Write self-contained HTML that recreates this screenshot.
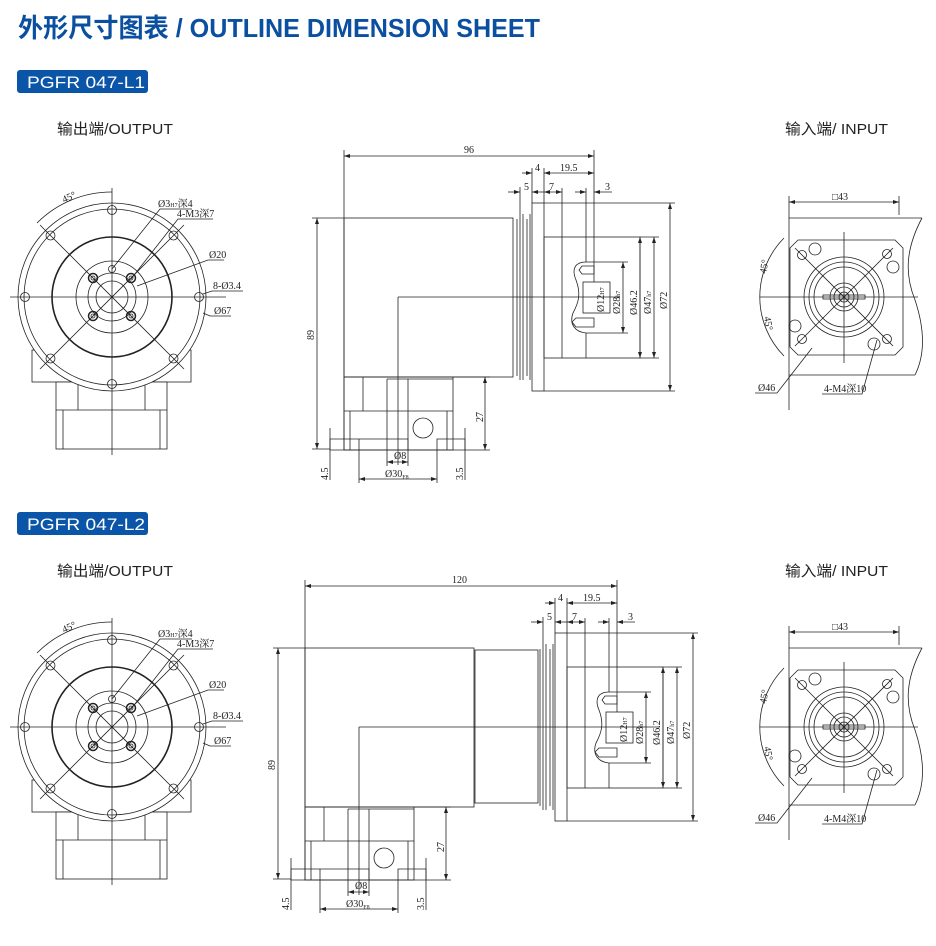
<!DOCTYPE html>
<html><head><meta charset="utf-8"><style>
html,body{margin:0;padding:0;background:#fff;}
svg{display:block;}
.t{font-family:"Liberation Serif","Noto Serif CJK SC",serif;font-size:10px;fill:#222;}
.h{font-family:"Liberation Sans","Noto Sans CJK SC",sans-serif;font-size:15px;fill:#222;}
</style></head><body>
<svg width="936" height="946" viewBox="0 0 936 946" xmlns="http://www.w3.org/2000/svg">
<defs>
<marker id="a" markerWidth="6" markerHeight="4" refX="6" refY="2" orient="auto-start-reverse" markerUnits="userSpaceOnUse"><path d="M0,0 L6,2 L0,4z" fill="#222"/></marker>
<g id="outv" fill="none" stroke="#222" stroke-width="0.8">
<rect x="32" y="350" width="159" height="32" fill="#fff"/>
<rect x="56" y="382" width="111" height="67" fill="#fff"/>
<line x1="78" y1="382" x2="78" y2="410"/><line x1="145" y1="382" x2="145" y2="410"/>
<line x1="56" y1="410" x2="167" y2="410"/>
<line x1="63" y1="410" x2="63" y2="449"/><line x1="160" y1="410" x2="160" y2="449"/>
<circle cx="112" cy="297" r="94" fill="#fff"/>
<circle cx="112" cy="297" r="88"/>
<circle cx="112" cy="297" r="60" stroke-width="1.6"/>
<circle cx="112" cy="297" r="36"/>
<circle cx="112" cy="297" r="24"/>
<circle cx="112" cy="297" r="16"/>
<line x1="10" y1="297" x2="226" y2="297"/>
<line x1="112" y1="188" x2="112" y2="455"/>
<line x1="40" y1="225" x2="184" y2="369"/>
<line x1="184" y1="225" x2="40" y2="369"/>
<path d="M112,192 A105,105 0 0 0 37,223"/>
<circle cx="112" cy="210" r="4.5"/><circle cx="112" cy="384" r="4.5"/>
<circle cx="25" cy="297" r="4.5"/><circle cx="199" cy="297" r="4.5"/>
<circle cx="50.5" cy="235.5" r="4.5"/><circle cx="173.5" cy="235.5" r="4.5"/>
<circle cx="50.5" cy="358.5" r="4.5"/><circle cx="173.5" cy="358.5" r="4.5"/>
<circle cx="93" cy="278" r="4.5" stroke-width="1.5"/><circle cx="131" cy="278" r="4.5" stroke-width="1.5"/>
<circle cx="93" cy="316" r="4.5" stroke-width="1.5"/><circle cx="131" cy="316" r="4.5" stroke-width="1.5"/>
<circle cx="93" cy="278" r="2"/><circle cx="131" cy="278" r="2"/><circle cx="93" cy="316" r="2"/><circle cx="131" cy="316" r="2"/>
<circle cx="112" cy="269" r="3.5"/>
<polyline points="112,269 160,209 192,209"/>
<polyline points="131,279 178,219 213,219"/>
<polyline points="137,286 208,260 224,260"/>
<polyline points="203,294 212,291 243,291"/>
<polyline points="203,313 210,316 231,316"/>
</g>
<g id="inv" fill="none" stroke="#222" stroke-width="0.8">
<line x1="789" y1="196" x2="789" y2="410"/><line x1="899" y1="196" x2="899" y2="215"/>
<line x1="789" y1="202" x2="899" y2="202" marker-start="url(#a)" marker-end="url(#a)"/>
<line x1="789" y1="218" x2="922" y2="218"/>
<line x1="789" y1="375" x2="915" y2="375"/>
<path d="M922,218 C905,250 905,275 915,300 C925,330 925,355 915,375"/>
<path d="M798,240 L895,240 L903,248 L903,347 L895,355 L798,355 L790,347 L790,248 Z"/>
<circle cx="844" cy="297" r="40"/><circle cx="844" cy="297" r="35"/><circle cx="844" cy="297" r="30"/>
<circle cx="844" cy="297" r="14"/><circle cx="844" cy="297" r="10"/><circle cx="844" cy="297" r="5"/>
<rect x="823" y="295" width="42" height="4"/>
<line x1="760" y1="297" x2="918" y2="297"/><line x1="844" y1="232" x2="844" y2="363"/>
<line x1="795" y1="248" x2="893" y2="346"/><line x1="893" y1="248" x2="795" y2="346"/>
<circle cx="802" cy="255" r="4.5"/><circle cx="887" cy="254" r="4.5"/><circle cx="802" cy="339" r="4.5"/><circle cx="887" cy="339" r="4.5"/>
<circle cx="815" cy="249" r="6"/><circle cx="893" cy="267" r="6"/><circle cx="795" cy="326" r="6"/><circle cx="874" cy="344" r="6"/>
<path d="M784,238 A84,84 0 0 0 784,356"/>
<polyline points="812,348 777,393 755,393"/>
<polyline points="877,340 862,394 822,394"/>
</g>
<g id="sa" fill="none" stroke="#222" stroke-width="0.8">
<rect x="344" y="218" width="169" height="159"/>
<line x1="344" y1="150" x2="344" y2="450"/>
<line x1="312" y1="218" x2="344" y2="218"/><line x1="312" y1="449" x2="330" y2="449"/>
<line x1="317" y1="218" x2="317" y2="449" marker-start="url(#a)" marker-end="url(#a)"/>
<rect x="344" y="377" width="109" height="73"/>
<line x1="363" y1="377" x2="363" y2="411"/><line x1="344" y1="411" x2="453" y2="411"/>
<line x1="350" y1="411" x2="350" y2="450"/><line x1="447" y1="411" x2="447" y2="450"/>
<line x1="387" y1="379" x2="387" y2="466"/><line x1="408" y1="379" x2="408" y2="466"/>
<line x1="387" y1="379" x2="453" y2="379"/>
<path d="M330,450 L330,439 L408,439 L408,450 M359,450 L359,439 M437,450 L437,439 L465,439 L465,450"/>
<line x1="330" y1="450" x2="465" y2="450"/>
<circle cx="423" cy="428" r="10"/>
<line x1="453" y1="377" x2="490" y2="377"/><line x1="465" y1="450" x2="490" y2="450"/>
<line x1="485" y1="377" x2="485" y2="450" marker-start="url(#a)" marker-end="url(#a)"/>
<line x1="387" y1="462" x2="408" y2="462" marker-start="url(#a)" marker-end="url(#a)"/>
<line x1="359" y1="450" x2="359" y2="483"/><line x1="437" y1="450" x2="437" y2="483"/>
<line x1="359" y1="479" x2="437" y2="479" marker-start="url(#a)" marker-end="url(#a)"/>
<line x1="330" y1="428" x2="330" y2="480"/><line x1="465" y1="428" x2="465" y2="480"/>
<line x1="398" y1="297" x2="398" y2="465"/>
</g>
<g id="sb" fill="none" stroke="#222" stroke-width="0.8">
<path d="M517,219 L517,376 M520,214 L520,380 M523,214 L523,380 M527,219 L527,376 M530,214 L530,380"/>
<rect x="532" y="203" width="12" height="188"/>
<line x1="544" y1="203" x2="675" y2="203"/><line x1="544" y1="391" x2="675" y2="391"/>
<line x1="670" y1="203" x2="670" y2="391" marker-start="url(#a)" marker-end="url(#a)"/>
<rect x="544" y="237" width="96" height="121"/>
<line x1="640" y1="237" x2="659" y2="237"/><line x1="640" y1="358" x2="659" y2="358"/>
<line x1="654" y1="237" x2="654" y2="358" marker-start="url(#a)" marker-end="url(#a)"/>
<line x1="562" y1="188" x2="562" y2="358"/><line x1="586" y1="188" x2="586" y2="262"/><line x1="586" y1="333" x2="586" y2="358"/>
<line x1="532" y1="168" x2="532" y2="203"/><line x1="544" y1="168" x2="544" y2="203"/>
<line x1="520" y1="187" x2="520" y2="214"/>
<line x1="594" y1="150" x2="594" y2="282"/>
<rect x="583" y="282" width="27" height="31"/>
<path d="M586,262 C576,262 571,268 576,280 C581,293 579,302 573,313 C569,324 575,332 586,333"/>
<path d="M582,266 L594,266 L594,274 L582,274 L579,270 Z M576,318 L594,318 L594,327 L576,327 L572,322 Z"/>
<line x1="586" y1="262" x2="628" y2="262"/><line x1="586" y1="333" x2="628" y2="333"/>
<line x1="623" y1="262" x2="623" y2="333" marker-start="url(#a)" marker-end="url(#a)"/>
<line x1="640" y1="237" x2="640" y2="358" marker-start="url(#a)" marker-end="url(#a)"/>
<line x1="522" y1="173" x2="532" y2="173" marker-end="url(#a)"/>
<line x1="544" y1="173" x2="594" y2="173" marker-start="url(#a)" marker-end="url(#a)"/>
<line x1="508" y1="192" x2="520" y2="192" marker-end="url(#a)"/>
<line x1="532" y1="192" x2="544" y2="192" marker-start="url(#a)"/>
<line x1="544" y1="192" x2="562" y2="192" marker-start="url(#a)" marker-end="url(#a)"/>
<line x1="575" y1="192" x2="586" y2="192" marker-end="url(#a)"/>
<line x1="594" y1="192" x2="612" y2="192" marker-start="url(#a)"/>
</g>
</defs>

<text x="18" y="37" font-family="'Liberation Sans','Noto Sans CJK SC',sans-serif" font-weight="bold" font-size="26" fill="#0a4fa0" textLength="522" lengthAdjust="spacingAndGlyphs">外形尺寸图表 / OUTLINE DIMENSION SHEET</text>

<rect x="17" y="70" width="131" height="23" rx="3" fill="#0a55a8"/>
<text x="27" y="88" font-family="'Liberation Sans',sans-serif" font-size="17" fill="#fff" textLength="118" lengthAdjust="spacingAndGlyphs">PGFR 047-L1</text>
<text class="h" x="57" y="134" textLength="116" lengthAdjust="spacingAndGlyphs">输出端/OUTPUT</text>
<text class="h" x="785" y="134" textLength="103" lengthAdjust="spacingAndGlyphs">输入端/ INPUT</text>
<use href="#outv"/>
<use href="#inv"/>
<use href="#sa"/>
<use href="#sb"/>
<line x1="398" y1="297" x2="620" y2="297" stroke="#222" stroke-width="0.8"/>
<line x1="344" y1="156" x2="594" y2="156" stroke="#222" stroke-width="0.8" marker-start="url(#a)" marker-end="url(#a)"/>
<g class="t">
<text x="464" y="153">96</text>
<text x="535" y="171">4</text><text x="560" y="171">19.5</text>
<text x="524" y="190">5</text><text x="549" y="190">7</text><text x="605" y="190">3</text>
<text x="394" y="459">Ø8</text><text x="385" y="477">Ø30<tspan font-size="6" dy="2">F8</tspan></text>
<text transform="translate(314,340) rotate(-90)">89</text>
<text transform="translate(483,422) rotate(-90)">27</text>
<text transform="translate(328,480) rotate(-90)">4.5</text>
<text transform="translate(463,480) rotate(-90)">3.5</text>
<text transform="translate(604,312) rotate(-90)">Ø12<tspan font-size="6">H7</tspan></text>
<text transform="translate(620,314) rotate(-90)">Ø28<tspan font-size="6">h7</tspan></text>
<text transform="translate(637,315) rotate(-90)">Ø46.2</text>
<text transform="translate(651,314) rotate(-90)">Ø47<tspan font-size="6">h7</tspan></text>
<text transform="translate(667,309) rotate(-90)">Ø72</text>
<text transform="translate(64,203) rotate(-25)">45°</text>
<text x="158" y="207">Ø3<tspan font-size="6">H7</tspan>深4</text>
<text x="177" y="217">4-M3深7</text>
<text x="209" y="258">Ø20</text>
<text x="213" y="289">8-Ø3.4</text>
<text x="214" y="314">Ø67</text>
<text x="832" y="200">□43</text>
<text transform="translate(766,274) rotate(-80)">45°</text>
<text transform="translate(764,317) rotate(80)">45°</text>
<text x="758" y="391">Ø46</text>
<text x="824" y="392">4-M4深10</text>
</g>

<rect x="17" y="512" width="131" height="23" rx="3" fill="#0a55a8"/>
<text x="27" y="530" font-family="'Liberation Sans',sans-serif" font-size="17" fill="#fff" textLength="118" lengthAdjust="spacingAndGlyphs">PGFR 047-L2</text>
<text class="h" x="57" y="576" textLength="116" lengthAdjust="spacingAndGlyphs">输出端/OUTPUT</text>
<text class="h" x="785" y="576" textLength="103" lengthAdjust="spacingAndGlyphs">输入端/ INPUT</text>
<use href="#outv" transform="translate(0,430)"/>
<use href="#inv" transform="translate(0,430)"/>
<use href="#sa" transform="translate(-39,430)"/>
<use href="#sb" transform="translate(23,430)"/>
<rect x="475" y="650" width="63" height="153" fill="none" stroke="#222" stroke-width="0.8"/>
<line x1="359" y1="727" x2="660" y2="727" stroke="#222" stroke-width="0.8"/>
<line x1="305" y1="586" x2="617" y2="586" stroke="#222" stroke-width="0.8" marker-start="url(#a)" marker-end="url(#a)"/>
<g class="t" transform="translate(0,430)">
<text x="355" y="459">Ø8</text>
<text x="346" y="477">Ø30<tspan font-size="6" dy="2">F8</tspan></text>
<text transform="translate(275,340) rotate(-90)">89</text>
<text transform="translate(444,422) rotate(-90)">27</text>
<text transform="translate(289,480) rotate(-90)">4.5</text>
<text transform="translate(424,480) rotate(-90)">3.5</text>
<text x="558" y="171">4</text><text x="583" y="171">19.5</text>
<text x="547" y="190">5</text><text x="572" y="190">7</text><text x="628" y="190">3</text>
<text transform="translate(627,312) rotate(-90)">Ø12<tspan font-size="6">H7</tspan></text>
<text transform="translate(643,314) rotate(-90)">Ø28<tspan font-size="6">h7</tspan></text>
<text transform="translate(660,315) rotate(-90)">Ø46.2</text>
<text transform="translate(674,314) rotate(-90)">Ø47<tspan font-size="6">h7</tspan></text>
<text transform="translate(690,309) rotate(-90)">Ø72</text>
<text transform="translate(64,203) rotate(-25)">45°</text>
<text x="158" y="207">Ø3<tspan font-size="6">H7</tspan>深4</text>
<text x="177" y="217">4-M3深7</text>
<text x="209" y="258">Ø20</text>
<text x="213" y="289">8-Ø3.4</text>
<text x="214" y="314">Ø67</text>
<text x="832" y="200">□43</text>
<text transform="translate(766,274) rotate(-80)">45°</text>
<text transform="translate(764,317) rotate(80)">45°</text>
<text x="758" y="391">Ø46</text>
<text x="824" y="392">4-M4深10</text>
</g>
<text class="t" x="452" y="583">120</text>
</svg>
</body></html>
